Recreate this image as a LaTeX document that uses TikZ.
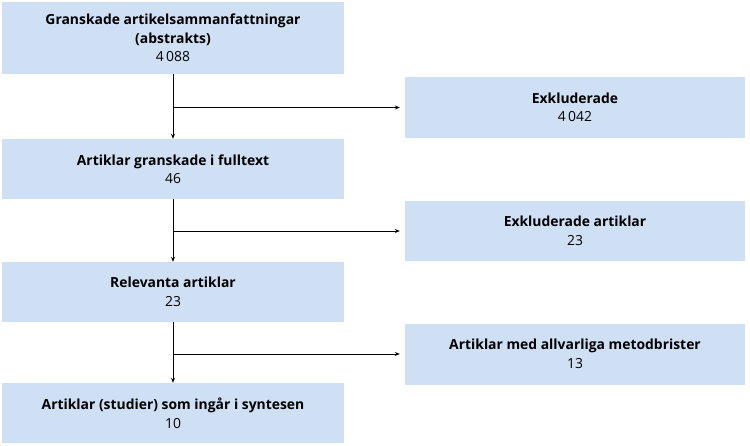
\documentclass[tikz,border=0pt]{standalone}
\usepackage{fontspec}
\setmainfont{Open Sans}
\usepackage{tikz}
\usetikzlibrary{positioning,arrows.meta}
\definecolor{boxcolor}{RGB}{207, 224, 245}

\begin{document}
\begin{tikzpicture}[
    x=1pt, y=-1pt,
    stage/.style={fill=boxcolor, minimum width=342pt, align=center, inner sep=0pt, font=\fontsize{13.9}{18.5}\selectfont},
    flow/.style={-{Stealth[length=5pt, width=4pt]}, line width=0.8pt}
]
    \useasboundingbox (0,0) rectangle (750,445);

    % Main column
    \node[stage, minimum height=72pt] (b1) at (173,38) {\textbf{Granskade artikelsammanfattningar}\\\textbf{(abstrakts)}\\4\,088};
    \node[stage, minimum height=60pt] (b2) at (173,169) {\textbf{Artiklar granskade i fulltext}\\46};
    \node[stage, minimum height=60pt] (b3) at (173,292) {\textbf{Relevanta artiklar}\\23};
    \node[stage, minimum height=60pt] (b4) at (173,413) {\textbf{Artiklar (studier) som ingår i syntesen}\\10};

    % Excluded column
    \node[stage, minimum width=340pt, minimum height=61pt] (r1) at (575,107.5) {\textbf{Exkluderade}\\4\,042};
    \node[stage, minimum width=340pt, minimum height=60pt] (r2) at (575,231) {\textbf{Exkluderade artiklar}\\23};
    \node[stage, minimum width=340pt, minimum height=61pt] (r3) at (575,354) {\textbf{Artiklar med allvarliga metodbrister}\\13};

    % Arrows
    \draw[flow] (b1) -- (b2);
    \draw[flow] (b2) -- (b3);
    \draw[flow] (b3) -- (b4);
    \foreach \i in {1,2,3} {
        \draw[flow, shorten >=5pt] (b1 |- r\i.west) -- (r\i.west);
    }
\end{tikzpicture}
\end{document}
